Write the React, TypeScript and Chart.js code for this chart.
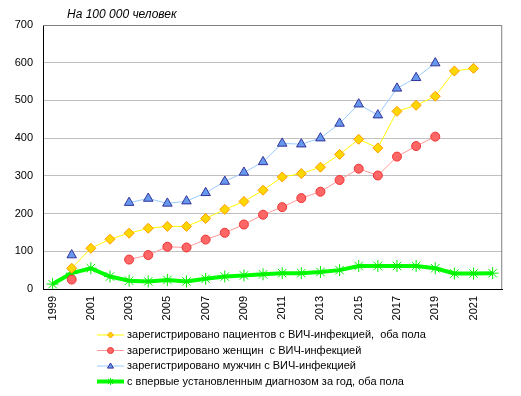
import React, { useEffect, useRef } from "react";
import { Chart, registerables } from "chart.js";

Chart.register(...registerables);

const TITLE = "На 100 000 человек";
const years = [
  "1999", "2000", "2001", "2002", "2003", "2004", "2005", "2006", "2007", "2008", "2009", "2010",
  "2011", "2012", "2013", "2014", "2015", "2016", "2017", "2018", "2019", "2020", "2021", "2022",
];
const yTicks = [0, 100, 200, 300, 400, 500, 600, 700];

const totalRegistered = [
  null, 55, 108, 132, 148, 161, 166, 166, 187, 211, 232, 262,
  297, 306, 323, 357, 397, 374, 471, 487, 511, 578, 585, null,
];
const womenRegistered = [
  null, 25, null, null, 78, 90, 112, 110, 131, 149, 171, 197,
  217, 241, 258, 289, 319, 301, 351, 379, 404, null, null, null,
];
const menRegistered = [
  null, 90, null, null, 229, 240, 227, 233, 255, 285, 309, 337,
  386, 384, 400, 439, 490, 461, 532, 560, 599, null, null, null,
];
const newlyDiagnosed = [
  13, 42, 55, 33, 22, 20, 24, 20, 27, 33, 36, 39,
  42, 42, 45, 50, 61, 61, 61, 61, 55, 41, 41, 42,
];

const legendLabels = [
  "зарегистрировано пациентов с ВИЧ-инфекцией,  оба пола",
  "зарегистрировано женщин  с ВИЧ-инфекцией",
  "зарегистрировано мужчин с ВИЧ-инфекцией",
  "с впервые установленным диагнозом за год, оба пола",
];

const FONT = '"Liberation Sans", Arial, sans-serif';

const styles = [
  { line: "#FFFF00", width: 1, fill: "#FFD700", border: "#FF9900", point: "rectRot", r: 5 },
  { line: "#FF9999", width: 1, fill: "#FF6666", border: "#EE3333", point: "circle", r: 4.5 },
  { line: "#99CCFF", width: 1, fill: "#6699EE", border: "#333399", point: "triangle", r: 5.5 },
  { line: "#00FF00", width: 4, fill: "#00EE00", border: "#00EE00", point: "star", r: 6 },
];

const decorPlugin = {
  id: "decor",
  beforeDatasetsDraw(chart: any) {
    const { ctx, chartArea } = chart;
    ctx.save();
    ctx.strokeStyle = "#808080";
    ctx.lineWidth = 1;
    ctx.beginPath();
    ctx.moveTo(chartArea.left, chartArea.top + 0.5);
    ctx.lineTo(chartArea.right - 0.5, chartArea.top + 0.5);
    ctx.lineTo(chartArea.right - 0.5, chartArea.bottom);
    ctx.stroke();
    ctx.restore();
  },
  afterDraw(chart: any) {
    const { ctx } = chart;
    ctx.save();
    ctx.fillStyle = "#000";
    ctx.font = "italic 12px " + FONT;
    ctx.textBaseline = "alphabetic";
    ctx.textAlign = "left";
    ctx.fillText(TITLE, 59, 9.5);

    ctx.font = "11px " + FONT;
    ctx.textBaseline = "middle";
    const rows = [327, 342.5, 358, 373.5];
    legendLabels.forEach((label, i) => {
      const s = styles[i];
      const y = rows[i];
      ctx.strokeStyle = s.line;
      ctx.lineWidth = s.width;
      ctx.beginPath();
      ctx.moveTo(89, y);
      ctx.lineTo(116, y);
      ctx.stroke();
      ctx.fillStyle = s.fill;
      ctx.strokeStyle = s.border;
      ctx.lineWidth = 1;
      (Chart as any).helpers?.drawPoint;
      drawMarker(ctx, s.point, 102.5, y, s.point === "star" ? 3.5 : 3);
      ctx.fillStyle = "#000";
      ctx.fillText(label, 119, y);
    });
    ctx.restore();
  },
};

function drawMarker(ctx: CanvasRenderingContext2D, type: string, x: number, y: number, r: number) {
  ctx.beginPath();
  if (type === "rectRot") {
    ctx.moveTo(x, y - r);
    ctx.lineTo(x + r, y);
    ctx.lineTo(x, y + r);
    ctx.lineTo(x - r, y);
    ctx.closePath();
    ctx.fill();
    ctx.stroke();
  } else if (type === "circle") {
    ctx.arc(x, y, r, 0, Math.PI * 2);
    ctx.fill();
    ctx.stroke();
  } else if (type === "triangle") {
    ctx.moveTo(x, y - r);
    ctx.lineTo(x + r, y + r * 0.7);
    ctx.lineTo(x - r, y + r * 0.7);
    ctx.closePath();
    ctx.fill();
    ctx.stroke();
  } else {
    for (let k = 0; k < 4; k++) {
      const a = (k * Math.PI) / 4;
      ctx.moveTo(x + Math.cos(a) * r, y + Math.sin(a) * r);
      ctx.lineTo(x - Math.cos(a) * r, y - Math.sin(a) * r);
    }
    ctx.stroke();
  }
}

export default function App() {
  const ref = useRef<HTMLCanvasElement | null>(null);
  useEffect(() => {
    if (!ref.current) return;
    const series = [totalRegistered, womenRegistered, menRegistered, newlyDiagnosed];
    const chart = new Chart(ref.current, {
      type: "line",
      data: {
        labels: years,
        datasets: series.map((d, i) => ({
          label: legendLabels[i],
          data: d,
          borderColor: styles[i].line,
          borderWidth: styles[i].width,
          backgroundColor: styles[i].fill,
          pointBackgroundColor: styles[i].fill,
          pointBorderColor: styles[i].border,
          pointBorderWidth: 1,
          pointStyle: styles[i].point as any,
          pointRadius: styles[i].r,
          pointHoverRadius: styles[i].r,
          tension: 0,
          spanGaps: false,
          fill: false,
        })),
      },
      options: {
        animation: false,
        responsive: true,
        maintainAspectRatio: false,
        layout: { padding: { left: 0, right: 5, top: 17, bottom: 0 } },
        plugins: {
          legend: { display: false },
          title: { display: false },
          tooltip: { enabled: false },
        },
        scales: {
          x: {
            type: "category",
            offset: true,
            grid: { display: false, drawTicks: false },
            border: { display: true, color: "#000", width: 1 },
            ticks: {
              autoSkip: false,
              minRotation: 90,
              maxRotation: 90,
              padding: 7,
              color: "#000",
              font: { family: FONT, size: 11 },
              callback: (_v: any, idx: number) => (idx % 2 === 0 ? years[idx] : ""),
            },
            afterFit: (s: any) => {
              s.height = 99;
            },
          },
          y: {
            min: 0,
            max: 700,
            afterBuildTicks: (s: any) => {
              s.ticks = yTicks.map((v) => ({ value: v }));
            },
            grid: { color: "#C0C0C0", drawTicks: false },
            border: { display: true, color: "#000", width: 1 },
            ticks: {
              padding: 10,
              color: "#000",
              font: { family: FONT, size: 11 },
            },
            afterFit: (s: any) => {
              s.width = 35;
            },
          },
        },
      },
      plugins: [decorPlugin],
    });
    return () => chart.destroy();
  }, []);
  return (
    <div style={{ position: "relative", width: 505, height: 380 }}>
      <canvas ref={ref} />
    </div>
  );
}
